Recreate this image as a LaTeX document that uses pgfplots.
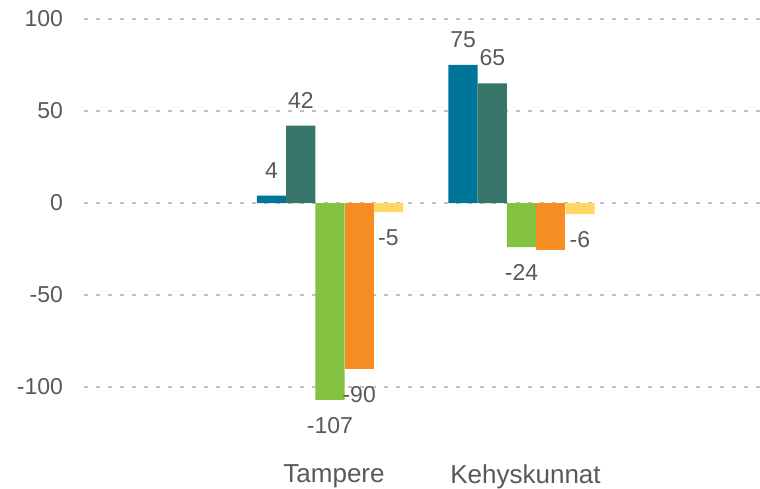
\documentclass[border=0pt]{standalone}
\usepackage{fontspec}
\setmainfont{Liberation Sans}
\usepackage{pgfplots}
\pgfplotsset{compat=1.18}
\usetikzlibrary{calc}
\definecolor{cblue}{HTML}{00759A}
\definecolor{cdkgreen}{HTML}{367568}
\definecolor{cltgreen}{HTML}{84C241}
\definecolor{corange}{HTML}{F68D22}
\definecolor{cyellow}{HTML}{FFD766}
\definecolor{ctext}{HTML}{595959}
\definecolor{cgrid}{HTML}{BFBFBF}
\begin{document}
\begin{tikzpicture}
\begin{axis}[
  scale only axis,
  width=338pt, height=202.4pt,
  xmin=-1.2846, xmax=2.2454,
  ymin=-120, ymax=100,
  ytick={-100,-50,0,50,100},
  xtick={0,1},
  xticklabels={Tampere,Kehyskunnat},
  /pgf/number format/assume math mode=true,
  axis line style={draw=none},
  tick style={draw=none},
  ymajorgrids,
  major grid style={cgrid, line width=1pt, dash pattern=on 2pt off 4pt},
  yticklabel style={font=\fontsize{11.5}{13}\selectfont, text=ctext, xshift=-7pt},
  xticklabel style={font=\fontsize{13}{15}\selectfont, text=ctext, yshift=-12.5pt, xshift=2pt},
  ybar, bar width=0.1525, bar shift=0pt,
  clip=false,
  every node near coord/.append style={font=\fontsize{11.5}{13}\selectfont, text=ctext, inner ysep=8.5pt},
  /pgf/number format/fixed, /pgf/number format/precision=0,
]
\addplot[fill=cblue, draw=none, nodes near coords] coordinates {(-0.305,4) (0.695,75)};
\addplot[fill=cdkgreen, draw=none, nodes near coords] coordinates {(-0.1525,42) (0.8475,65)};
\addplot[fill=cltgreen, draw=none, nodes near coords] coordinates {(0,-107) (1,-24)};
\addplot[fill=corange, draw=none, nodes near coords] coordinates {(0.1525,-90)};
\addplot[fill=corange, draw=none] coordinates {(1.1525,-25.5)};
\addplot[fill=cyellow, draw=none, nodes near coords] coordinates {(0.305,-5) (1.305,-6)};
\end{axis}
\pgfresetboundingbox
\path[use as bounding box] ($(current axis.south west)+(-42pt,-32.1pt)$) rectangle ($(current axis.north east)+(0pt,9.5pt)$);
\end{tikzpicture}
\end{document}
